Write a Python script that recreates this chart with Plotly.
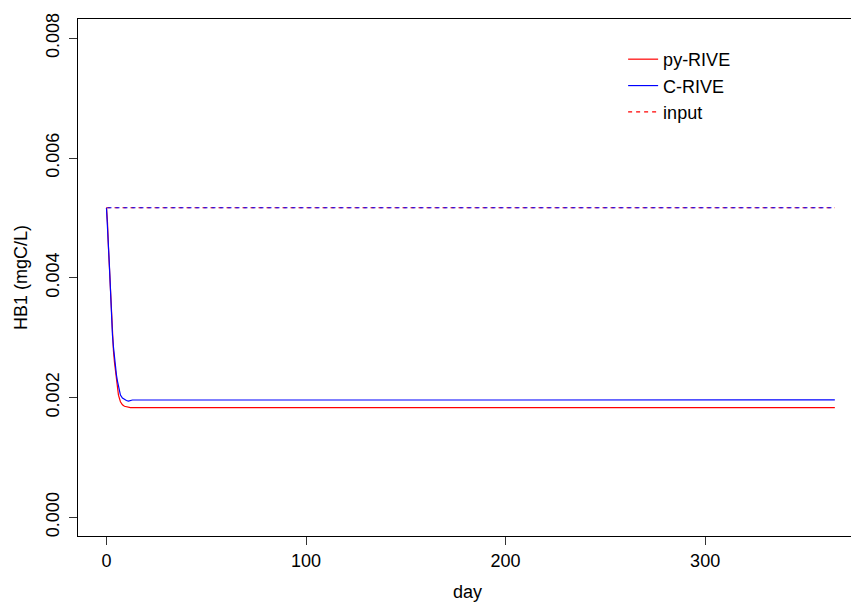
import plotly.graph_objects as go

# ---- data ----
crive_days = [0, 0.5, 1.0, 1.5, 2.0, 2.5, 3.0, 3.5, 4.0, 4.5, 5.0, 5.5, 6.0,
              7.0, 8.0, 9.0, 10, 11, 12, 13, 365]
crive_vals = [0.005170, 0.004932, 0.004514, 0.004180, 0.003712, 0.003378,
              0.003044, 0.002843, 0.002660, 0.002509, 0.002376, 0.002276,
              0.002175, 0.002042, 0.001992, 0.001967, 0.001951, 0.001942,
              0.001951, 0.001959, 0.001960]

pyrive_days = [0, 0.5, 1.0, 1.5, 2.0, 2.5, 3.0, 3.5, 4.0, 4.5, 5.0, 5.5, 6.0,
               7.0, 8.0, 9.0, 10, 11, 12, 365]
pyrive_vals = [0.005170, 0.004930, 0.004500, 0.004160, 0.003680, 0.003340,
               0.003000, 0.002780, 0.002590, 0.002430, 0.002270, 0.002140,
               0.002040, 0.001930, 0.001880, 0.001855, 0.001843, 0.001836,
               0.001832, 0.001831]

input_days = [0, 365]
input_vals = [0.005170, 0.005170]

x_ticks = [0, 100, 200, 300]
y_ticks = [0.000, 0.002, 0.004, 0.006, 0.008]

FONT = "Liberation Sans, Arial, sans-serif"

fig = go.Figure()
fig.add_trace(go.Scatter(x=pyrive_days, y=pyrive_vals, mode="lines", name="py-RIVE",
                         line=dict(color="#FF0000", width=1.2)))
fig.add_trace(go.Scatter(x=crive_days, y=crive_vals, mode="lines", name="C-RIVE",
                         line=dict(color="#0000FF", width=1.2)))
fig.add_trace(go.Scatter(x=input_days, y=input_vals, mode="lines", name="input",
                         line=dict(color="#FF0000", width=1.2, dash="4px,4px")))
fig.add_trace(go.Scatter(x=input_days, y=input_vals, mode="lines", name="input (C)",
                         showlegend=False,
                         line=dict(color="#0000FF", width=1.2, dash="0px,1px,4px,3px")))

fig.update_layout(
    width=851, height=602,
    margin=dict(l=77.5, r=0, t=19, b=66, pad=0),
    paper_bgcolor="white", plot_bgcolor="white",
    font=dict(family=FONT, size=18, color="black"),
    showlegend=True,
    legend=dict(x=0.7052, y=0.9575, xanchor="left", yanchor="top",
                bgcolor="rgba(0,0,0,0)", borderwidth=0,
                font=dict(family=FONT, size=18, color="black"),
                tracegroupgap=0),
    xaxis=dict(range=[-14.27, 373.1], tickvals=x_ticks,
               ticktext=[str(v) for v in x_ticks],
               showgrid=False, zeroline=False,
               showline=True, linecolor="black", linewidth=1, mirror=True,
               ticks="outside", ticklen=8, tickcolor="#333333", tickwidth=1,
               tickfont=dict(family=FONT, size=18, color="black")),
    yaxis=dict(range=[-0.000312, 0.008322], tickvals=y_ticks,
               ticktext=["%.3f" % v for v in y_ticks], tickangle=-90,
               ticklabelstandoff=3,
               showgrid=False, zeroline=False,
               showline=True, linecolor="black", linewidth=1, mirror=False,
               ticks="outside", ticklen=8, tickcolor="#333333", tickwidth=1,
               tickfont=dict(family=FONT, size=18, color="black")),
    annotations=[
        dict(text="HB1 (mgC/L)", xref="paper", yref="paper",
             x=-0.0743, y=0.5, xanchor="center", yanchor="middle",
             textangle=-90, showarrow=False,
             font=dict(family=FONT, size=18, color="black")),
        dict(text="day", xref="paper", yref="paper",
             x=0.5036, y=-0.1083, xanchor="center", yanchor="middle",
             showarrow=False,
             font=dict(family=FONT, size=18, color="black")),
    ],
)

fig.write_html("out.html")
